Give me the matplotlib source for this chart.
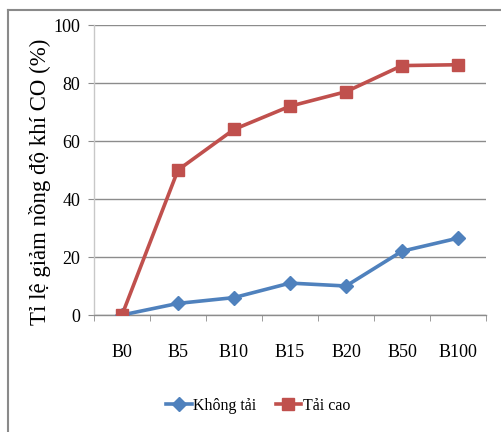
import matplotlib
matplotlib.use("Agg")
import matplotlib.pyplot as plt
from matplotlib.lines import Line2D
import numpy as np

categories = ["B0", "B5", "B10", "B15", "B20", "B50", "B100"]
khong_tai = [0, 4, 6, 11, 10, 22, 26.5]
tai_cao = [0, 50, 64, 72, 77, 86, 86.3]
series_names = ["Không tải", "Tải cao"]
y_ticks = [0, 20, 40, 60, 80, 100]

plt.rcParams["font.family"] = ["Liberation Serif", "DejaVu Serif"]

W, H = 502, 432
fig = plt.figure(figsize=(W / 100, H / 100), dpi=100)
ax = fig.add_axes([94 / W, 1 - 315 / H, (486 - 94) / W, (315 - 25) / H])

x = np.arange(len(categories))
blue = "#4F81BD"
red = "#C0504D"

ax.plot(x, khong_tai, color=blue, lw=2.6, marker="D", ms=7.5,
        label=series_names[0], zorder=3)
ax.plot(x, tai_cao, color=red, lw=2.6, marker="s", ms=9,
        label=series_names[1], zorder=4)

ax.set_xlim(-0.5, len(categories) - 0.5)
ax.set_ylim(0, 100)
ax.set_yticks(y_ticks)
ax.set_xticks(x)
ax.set_xticklabels(categories)
ax.set_xticks(np.arange(len(categories) + 1) - 0.5, minor=True)

ax.grid(axis="y", color="#8c8c8c", lw=1.0)
ax.set_axisbelow(True)
for side in ("top", "right"):
    ax.spines[side].set_visible(False)
ax.spines["left"].set_color("#c8c8c8")
ax.spines["bottom"].set_color("#8c8c8c")
ax.spines["left"].set_linewidth(1.0)
ax.spines["bottom"].set_linewidth(1.0)

ax.tick_params(axis="x", which="major", length=0, pad=21, labelsize=13)
ax.tick_params(axis="x", which="minor", length=4, color="#8c8c8c", direction="out")
ax.tick_params(axis="y", length=4, color="#8c8c8c", pad=6, labelsize=13)

fig.text(40 / W, 1 - 182 / H, "Tỉ lệ giảm nồng độ khí CO (%)", rotation=90,
         ha="center", va="center", fontsize=16.5)

leg = fig.legend(loc="center", bbox_to_anchor=(258 / W, 1 - 406 / H), ncol=2,
                 frameon=False, fontsize=11.5, handlelength=1.6,
                 handletextpad=0.1, columnspacing=1.2)

# outer frame (top and left edges)
fx = 8 / W
fy = 1 - 10 / H
fig.add_artist(Line2D([fx, fx], [0, fy], transform=fig.transFigure,
                      color="#8a8a8a", lw=1.5))
fig.add_artist(Line2D([fx, 1], [fy, fy], transform=fig.transFigure,
                      color="#8a8a8a", lw=1.5))

fig.savefig("out.png", dpi=100)
